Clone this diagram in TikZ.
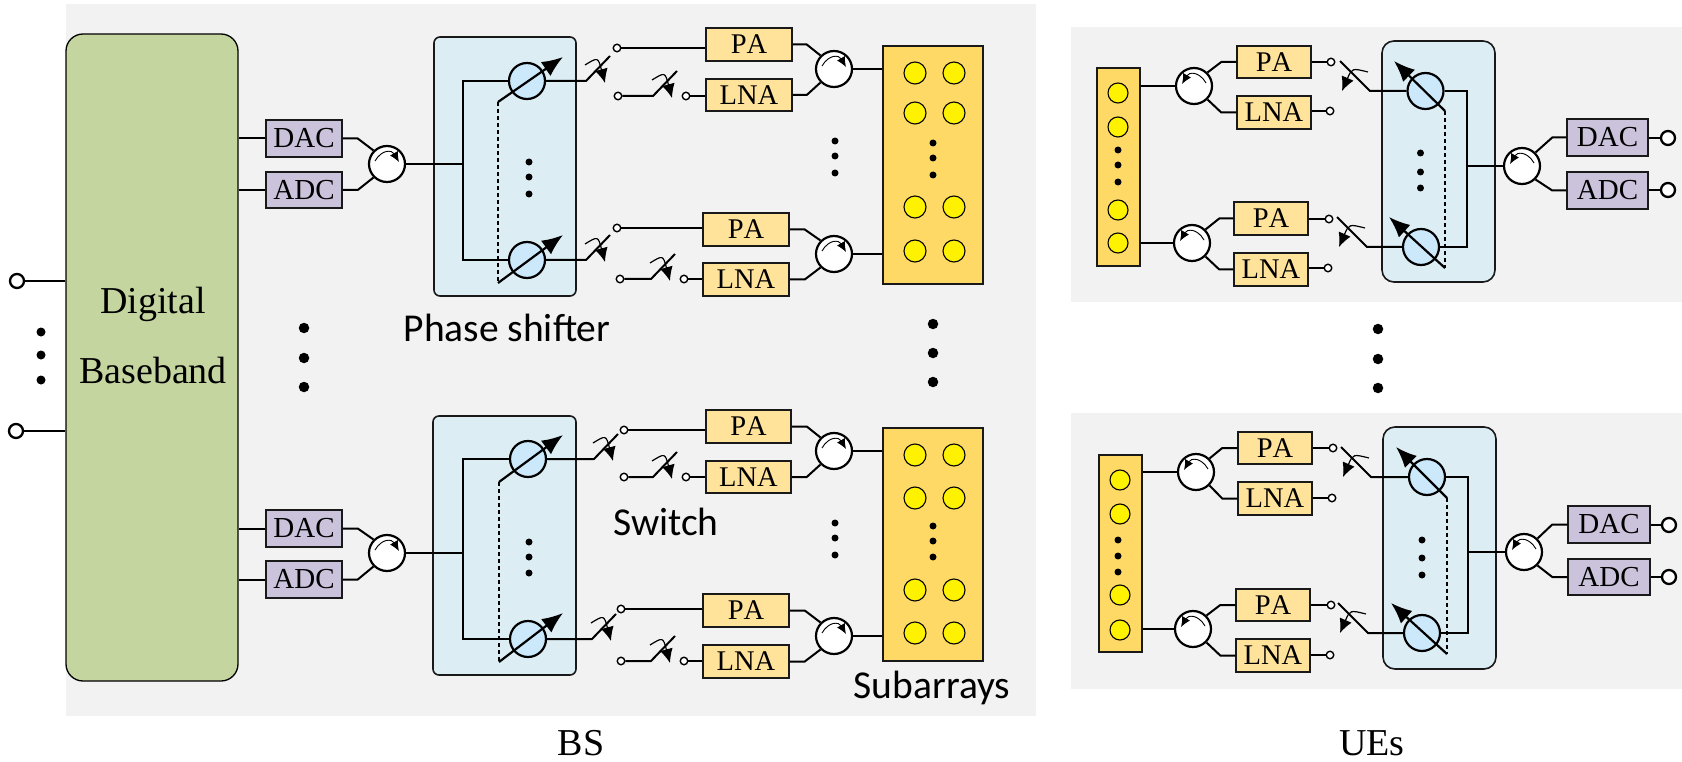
\documentclass[tikz,border=0pt]{standalone}
\usepackage{fontspec}
\setmainfont[Kerning=Off]{Liberation Serif}
\newfontfamily\lblfont{Carlito}
\usetikzlibrary{arrows.meta}
\definecolor{bgc}{HTML}{F2F2F2}
\definecolor{bbc}{HTML}{C5D5A0}
\definecolor{cvc}{HTML}{CBC3DB}
\definecolor{pac}{HTML}{FFE39B}
\definecolor{arrc}{HTML}{FFD966}
\definecolor{psbc}{HTML}{DCEEF4}
\definecolor{psc}{HTML}{CCE9FC}
\tikzset{
  wire/.style={line width=2pt,line join=miter},
  blockb/.style={draw=black!90,line width=1.5pt,inner sep=0pt,rectangle},
  cv/.style={blockb,fill=cvc,font=\fontsize{29}{30}\selectfont},
  amp/.style={blockb,fill=pac,font=\fontsize{28.5}{30}\selectfont},
  arrbox/.style={draw=black!90,line width=1.3pt,fill=arrc,inner sep=0pt,rectangle},
  psbox/.style={draw=black!90,line width=1.6pt,fill=psbc,inner sep=0pt,rectangle,rounded corners=#1},
  bbbox/.style={draw=black,line width=1.3pt,fill=bbc,inner sep=0pt,rectangle,rounded corners=17pt},
  circu/.style={circle,draw=black,line width=2.2pt,fill=white,minimum size=36pt,inner sep=0pt},
  pshift/.style={circle,draw=black,line width=2.2pt,fill=psc,minimum size=36pt,inner sep=0pt},
  ant/.style={circle,draw=black,line width=1.1pt,fill=yellow,minimum size=#1,inner sep=0pt},
  termS/.style={circle,draw=black,line width=1.4pt,fill=white,minimum size=7.5pt,inner sep=0pt},
  termL/.style={circle,draw=black,line width=2.3pt,fill=white,minimum size=14pt,inner sep=0pt},
  dotS/.style={circle,fill=black,minimum size=7pt,inner sep=0pt},
  dotM/.style={circle,fill=black,minimum size=9pt,inner sep=0pt},
  dotL/.style={circle,fill=black,minimum size=10.5pt,inner sep=0pt},
  lbl/.style={font=\lblfont\fontsize{39.5}{41}\selectfont,inner sep=0pt},
  captext/.style={font=\fontsize{38}{40}\selectfont,inner sep=0pt},
  bigarrow/.style={line width=2.2pt,-{Latex[length=21pt,width=17pt]}},
  swarrow/.style={line width=1.2pt,-{Latex[length=14pt,width=13pt]}},
  circarrow/.style={line width=0.9pt,-{Latex[length=10pt,width=9pt]}},
  dashwire/.style={line width=2pt,dash pattern=on 4pt off 3pt},
}
% block from corners: name, x1,y1,x2,y2, style, text
\newcommand\blk[7]{%
  \pgfmathsetmacro\blkw{#4-#2}\pgfmathsetmacro\blkh{#5-#3}%
  \node[#6,minimum width=\blkw pt,minimum height=\blkh pt] (#1) at ({(#2+#4)/2},{(#3+#5)/2}) {#7};}
% circulator: name,x,y,dir (1 clockwise to the right, -1 mirrored)
\newcommand\circu[4]{%
  \node[circu] (#1) at (#2,#3) {};
  \draw[circarrow] ([shift={(#4*-12,-3)}]#1.center) .. controls ([shift={(#4*-5,-15)}]#1.center) and ([shift={(#4*5,-14)}]#1.center) .. ([shift={(#4*12,-2)}]#1.center);}
% three dots: name,x,y1,y2,y3,style
\newcommand\tridots[6]{%
  \node[#6] (#1a) at (#2,#3) {};\node[#6] (#1b) at (#2,#4) {};\node[#6] (#1c) at (#2,#5) {};}
% BS switch: name, pivot x, y
\newcommand\bssw[3]{%
  \coordinate (#1p) at (#2,#3);
  \coordinate (#1e) at ({#2+24},{#3-25});
  \draw[swarrow] ({#2-1},{#3-16}) .. controls ({#2+12},{#3-24}) .. ({#2+19},{#3+2});}
% UE switch: name, pivot x, y
\newcommand\uesw[3]{%
  \coordinate (#1p) at (#2,#3);
  \coordinate (#1e) at ({#2-30},{#3-30});
  \draw[swarrow] ({#2-2},{#3-19}) .. controls ({#2-18},{#3-23}) .. ({#2-28},{#3});}
% phase-shifter control arrow
\newcommand\psarrow[5]{%
  \coordinate (#1) at (#2,#3);\coordinate (#1t) at (#4,#5);
  \draw[bigarrow] (#1) -- (#1t);}
\begin{document}
\begin{tikzpicture}[x=1pt,y=-1pt]
\useasboundingbox (0,0) rectangle (1682,762);
\fill[bgc] (66,4) rectangle (1036,716);
\fill[bgc] (1071,27) rectangle (1682,302);
\fill[bgc] (1071,413) rectangle (1682,689);

% ---- Baseband
\blk{bb}{66}{34}{238}{681}{bbbox}{}
\node[captext,anchor=base] (bbt1) at (153,313) {Digital};
\node[captext,anchor=base] (bbt2) at (153,383) {Baseband};
\node[termL] (in1) at (17,281) {};
\node[termL] (in2) at (16,431) {};
\draw[wire] (in1) -- (in1 -| bb.west);
\draw[wire] (in2) -- (in2 -| bb.west);
\tridots{dl}{41}{332}{355}{380}{dotM}
\tridots{dm}{304}{328}{358}{387}{dotL}
\tridots{dr}{933}{324}{353}{382}{dotL}
\tridots{du}{1378}{329}{359}{388}{dotL}

% ---- BS chain 1
\blk{b1dac}{266}{120}{342}{157}{cv}{DAC}
\blk{b1adc}{266}{172}{342}{208}{cv}{ADC}
\draw[wire] (bb.east |- b1dac.west) -- (b1dac.west);
\draw[wire] (bb.east |- b1adc.west) -- (b1adc.west);
\blk{b1box}{434}{37}{576}{296}{psbox=6pt}{}
\circu{b1c}{387}{164}{1}
\draw[wire] (b1dac.east) -- ++(15,0) -- (b1c.135);
\draw[wire] (b1adc.east) -- ++(15,0) -- (b1c.225);
\coordinate (b1j) at (463,164);
\draw[wire] (b1c.east) -- (b1j);
\node[pshift] (b1pa) at (527,81) {};
\node[pshift] (b1pb) at (527,260) {};
\draw[wire] (b1pa.west) -| (b1j) |- (b1pb.west);
\psarrow{b1aa}{498}{102}{563}{57}
\psarrow{b1ab}{498}{283}{563}{235}
\draw[dashwire] (b1aa) -- (b1ab);
\tridots{b1d}{529}{162}{177}{194}{dotS}
% top sub-chain
\blk{b1pa1}{706}{28}{792}{61}{amp}{PA}
\blk{b1ln1}{706}{79}{792}{111}{amp}{LNA}
\bssw{b1s1}{586}{81}
\draw[wire] (b1pa.east) -- (b1s1p) -- (b1s1e);
\node[termS] (b1t1) at (617,48) {};
\draw[wire] (b1t1) -- (b1t1 -| b1pa1.west);
\node[termS] (b1t2) at (618,96) {};
\node[termS] (b1t3) at (686,96) {};
\bssw{b1s2}{653}{96}
\draw[wire] (b1t2) -- (b1s2p) -- (b1s2e);
\draw[wire] (b1t3) -- (b1t3 -| b1ln1.west);
\circu{b1c1}{834}{69}{1}
\draw[wire] (b1pa1.east) -- ++(14,0) -- (b1c1.135);
\draw[wire] (b1ln1.east) -- ++(14,0) -- (b1c1.225);
% bottom sub-chain
\blk{b1pa2}{703}{213}{789}{246}{amp}{PA}
\blk{b1ln2}{703}{263}{789}{296}{amp}{LNA}
\bssw{b1s3}{586}{260}
\draw[wire] (b1pb.east) -- (b1s3p) -- (b1s3e);
\node[termS] (b1t4) at (617,228) {};
\draw[wire] (b1t4) -- (b1t4 -| b1pa2.west);
\node[termS] (b1t5) at (620,279) {};
\node[termS] (b1t6) at (684,279) {};
\bssw{b1s4}{651}{279}
\draw[wire] (b1t5) -- (b1s4p) -- (b1s4e);
\draw[wire] (b1t6) -- (b1t6 -| b1ln2.west);
\circu{b1c2}{834}{254}{1}
\draw[wire] (b1pa2.east) -- ++(15,0) -- (b1c2.135);
\draw[wire] (b1ln2.east) -- ++(15,0) -- (b1c2.225);
% array
\blk{b1arr}{883}{46}{983}{284}{arrbox}{}
\draw[wire] (b1c1.east) -- (b1c1.east -| b1arr.west);
\draw[wire] (b1c2.east) -- (b1c2.east -| b1arr.west);
\foreach \x in {915,954} \foreach \y in {73,113,207,251}
  \node[ant=22pt] (b1a\x-\y) at (\x,\y) {};
\tridots{b1ad}{933}{143}{158}{175}{dotS}
\tridots{b1md}{835}{141}{156}{173}{dotS}

% ---- BS chain 2
\blk{b2dac}{266}{510}{342}{547}{cv}{DAC}
\blk{b2adc}{266}{561}{342}{598}{cv}{ADC}
\draw[wire] (bb.east |- b2dac.west) -- (b2dac.west);
\draw[wire] (bb.east |- b2adc.west) -- (b2adc.west);
\blk{b2box}{433}{416}{576}{675}{psbox=6pt}{}
\circu{b2c}{387}{553}{1}
\draw[wire] (b2dac.east) -- ++(15,0) -- (b2c.135);
\draw[wire] (b2adc.east) -- ++(15,0) -- (b2c.225);
\coordinate (b2j) at (463,553);
\draw[wire] (b2c.east) -- (b2j);
\node[pshift] (b2pa) at (528,459) {};
\node[pshift] (b2pb) at (528,639) {};
\draw[wire] (b2pa.west) -| (b2j) |- (b2pb.west);
\psarrow{b2aa}{499}{482}{563}{435}
\psarrow{b2ab}{499}{662}{563}{613}
\draw[dashwire] (b2aa) -- (b2ab);
\tridots{b2d}{529}{542}{557}{573}{dotS}
\blk{b2pa1}{706}{410}{791}{443}{amp}{PA}
\blk{b2ln1}{706}{461}{791}{493}{amp}{LNA}
\bssw{b2s1}{594}{459}
\draw[wire] (b2pa.east) -- (b2s1p) -- (b2s1e);
\node[termS] (b2t1) at (624,430) {};
\draw[wire] (b2t1) -- (b2t1 -| b2pa1.west);
\node[termS] (b2t2) at (624,477) {};
\node[termS] (b2t3) at (686,477) {};
\bssw{b2s2}{653}{477}
\draw[wire] (b2t2) -- (b2s2p) -- (b2s2e);
\draw[wire] (b2t3) -- (b2t3 -| b2ln1.west);
\circu{b2c1}{834}{451}{1}
\draw[wire] (b2pa1.east) -- ++(15,0) -- (b2c1.135);
\draw[wire] (b2ln1.east) -- ++(15,0) -- (b2c1.225);
\blk{b2pa2}{703}{594}{789}{627}{amp}{PA}
\blk{b2ln2}{703}{645}{789}{678}{amp}{LNA}
\bssw{b2s3}{592}{639}
\draw[wire] (b2pb.east) -- (b2s3p) -- (b2s3e);
\node[termS] (b2t4) at (621,609) {};
\draw[wire] (b2t4) -- (b2t4 -| b2pa2.west);
\node[termS] (b2t5) at (621,661) {};
\node[termS] (b2t6) at (684,661) {};
\bssw{b2s4}{651}{661}
\draw[wire] (b2t5) -- (b2s4p) -- (b2s4e);
\draw[wire] (b2t6) -- (b2t6 -| b2ln2.west);
\circu{b2c2}{834}{636}{1}
\draw[wire] (b2pa2.east) -- ++(15,0) -- (b2c2.135);
\draw[wire] (b2ln2.east) -- ++(15,0) -- (b2c2.225);
\blk{b2arr}{883}{428}{983}{661}{arrbox}{}
\draw[wire] (b2c1.east) -- (b2c1.east -| b2arr.west);
\draw[wire] (b2c2.east) -- (b2c2.east -| b2arr.west);
\foreach \x in {915,954} \foreach \y in {455,498,590,633}
  \node[ant=22pt] (b2a\x-\y) at (\x,\y) {};
\tridots{b2ad}{933}{526}{541}{557}{dotS}
\tridots{b2md}{835}{523}{538}{555}{dotS}

% ---- UE 1
\blk{u1arr}{1097}{68}{1140}{266}{arrbox}{}
\foreach \y in {93,127,210,243}
  \node[ant=20pt] (u1a\y) at (1118,\y) {};
\tridots{u1ad}{1118}{150}{165}{182}{dotS}
\circu{u1c1}{1194}{86}{-1}
\circu{u1c2}{1192}{243}{-1}
\draw[wire] (u1c1.west -| u1arr.east) -- (u1c1.west);
\draw[wire] (u1c2.west -| u1arr.east) -- (u1c2.west);
\blk{u1pa1}{1237}{46}{1311}{78}{amp}{PA}
\blk{u1ln1}{1237}{96}{1311}{129}{amp}{LNA}
\blk{u1pa2}{1234}{202}{1308}{235}{amp}{PA}
\blk{u1ln2}{1234}{253}{1308}{286}{amp}{LNA}
\draw[wire] (u1pa1.west) -- ++(-15,0) -- (u1c1.45);
\draw[wire] (u1ln1.west) -- ++(-15,0) -- (u1c1.315);
\draw[wire] (u1pa2.west) -- ++(-14,0) -- (u1c2.45);
\draw[wire] (u1ln2.west) -- ++(-14,0) -- (u1c2.315);
\node[termS] (u1t1) at (1331,62) {};
\node[termS] (u1t2) at (1330,111) {};
\node[termS] (u1t3) at (1329,219) {};
\node[termS] (u1t4) at (1328,268) {};
\draw[wire] (u1pa1.east |- u1t1) -- (u1t1);
\draw[wire] (u1ln1.east |- u1t2) -- (u1t2);
\draw[wire] (u1pa2.east |- u1t3) -- (u1t3);
\draw[wire] (u1ln2.east |- u1t4) -- (u1t4);
\blk{u1box}{1382}{41}{1495}{282}{psbox=12pt}{}
\node[pshift] (u1pa) at (1425.5,91) {};
\node[pshift] (u1pb) at (1421,247) {};
\uesw{u1s1}{1370}{91}
\uesw{u1s2}{1367}{247}
\draw[wire] (u1pa.west) -- (u1s1p) -- (u1s1e);
\draw[wire] (u1pb.west) -- (u1s2p) -- (u1s2e);
\coordinate (u1j) at (1467,166);
\circu{u1c3}{1522}{166}{-1}
\draw[wire] (u1pa.east) -| (u1j) |- (u1pb.east);
\draw[wire] (u1j) -- (u1c3.west);
\psarrow{u1aa}{1445}{111}{1394}{61}
\psarrow{u1ab}{1445}{268}{1389}{217}
\draw[dashwire] (u1aa) -- (u1ab);
\tridots{u1d}{1420.5}{153}{172}{188}{dotS}
\blk{u1dac}{1567}{119}{1648}{156}{cv}{DAC}
\blk{u1adc}{1567}{172}{1648}{209}{cv}{ADC}
\draw[wire] (u1dac.west) -- ++(-14,0) -- (u1c3.45);
\draw[wire] (u1adc.west) -- ++(-14,0) -- (u1c3.315);
\node[termL] (u1o1) at (1668,138) {};
\node[termL] (u1o2) at (1668,190) {};
\draw[wire] (u1dac.east |- u1o1) -- (u1o1);
\draw[wire] (u1adc.east |- u1o2) -- (u1o2);

% ---- UE 2
\blk{u2arr}{1099}{455}{1142}{652}{arrbox}{}
\foreach \y in {480,514,595,630}
  \node[ant=20pt] (u2a\y) at (1120,\y) {};
\tridots{u2ad}{1118}{540}{556}{572}{dotS}
\circu{u2c1}{1196}{472}{-1}
\circu{u2c2}{1193}{629}{-1}
\draw[wire] (u2c1.west -| u2arr.east) -- (u2c1.west);
\draw[wire] (u2c2.west -| u2arr.east) -- (u2c2.west);
\blk{u2pa1}{1238}{432}{1312}{464}{amp}{PA}
\blk{u2ln1}{1238}{482}{1312}{515}{amp}{LNA}
\blk{u2pa2}{1236}{589}{1310}{621}{amp}{PA}
\blk{u2ln2}{1236}{639}{1310}{672}{amp}{LNA}
\draw[wire] (u2pa1.west) -- ++(-15,0) -- (u2c1.45);
\draw[wire] (u2ln1.west) -- ++(-15,0) -- (u2c1.315);
\draw[wire] (u2pa2.west) -- ++(-15,0) -- (u2c2.45);
\draw[wire] (u2ln2.west) -- ++(-15,0) -- (u2c2.315);
\node[termS] (u2t1) at (1333,448) {};
\node[termS] (u2t2) at (1332,498) {};
\node[termS] (u2t3) at (1331,605) {};
\node[termS] (u2t4) at (1330,655) {};
\draw[wire] (u2pa1.east |- u2t1) -- (u2t1);
\draw[wire] (u2ln1.east |- u2t2) -- (u2t2);
\draw[wire] (u2pa2.east |- u2t3) -- (u2t3);
\draw[wire] (u2ln2.east |- u2t4) -- (u2t4);
\blk{u2box}{1383}{427}{1496}{669}{psbox=12pt}{}
\node[pshift] (u2pa) at (1427,477) {};
\node[pshift] (u2pb) at (1422,633) {};
\uesw{u2s1}{1371}{477}
\uesw{u2s2}{1368}{633}
\draw[wire] (u2pa.west) -- (u2s1p) -- (u2s1e);
\draw[wire] (u2pb.west) -- (u2s2p) -- (u2s2e);
\coordinate (u2j) at (1468,552);
\circu{u2c3}{1524}{552}{-1}
\draw[wire] (u2pa.east) -| (u2j) |- (u2pb.east);
\draw[wire] (u2j) -- (u2c3.west);
\psarrow{u2aa}{1447}{498}{1396}{447}
\psarrow{u2ab}{1447}{654}{1391}{603}
\draw[dashwire] (u2aa) -- (u2ab);
\tridots{u2d}{1422}{540}{558}{575}{dotS}
\blk{u2dac}{1568}{506}{1650}{543}{cv}{DAC}
\blk{u2adc}{1568}{559}{1650}{595}{cv}{ADC}
\draw[wire] (u2dac.west) -- ++(-15,0) -- (u2c3.45);
\draw[wire] (u2adc.west) -- ++(-15,0) -- (u2c3.315);
\node[termL] (u2o1) at (1669,525) {};
\node[termL] (u2o2) at (1669,577) {};
\draw[wire] (u2dac.east |- u2o1) -- (u2o1);
\draw[wire] (u2adc.east |- u2o2) -- (u2o2);

% ---- labels
\node[lbl] (lphase) at (507,328) {Phase shifter};
\node[lbl] (lswitch) at (666,522) {Switch};
\node[lbl] (lsub) at (932,688) {Subarrays};
\node[captext] (lbs) at (581,743) {BS};
\node[captext] (lue) at (1372,743) {UEs};
\end{tikzpicture}
\end{document}
